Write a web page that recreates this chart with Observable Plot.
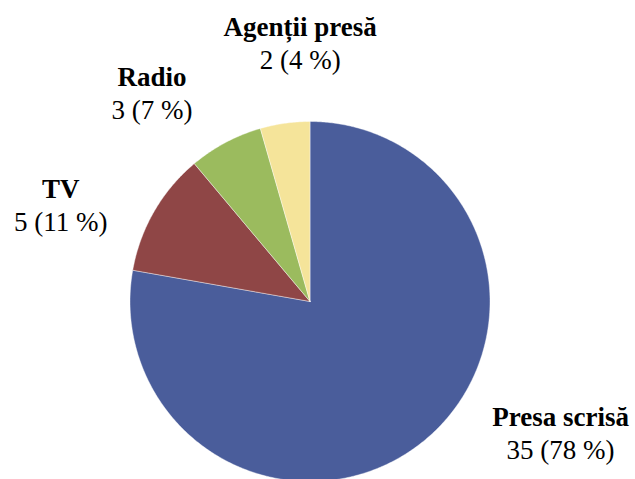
<!DOCTYPE html>
<html>
<head>
<meta charset="utf-8">
<script src="https://cdn.jsdelivr.net/npm/d3@7"></script>
<script src="https://cdn.jsdelivr.net/npm/@observablehq/plot@0.6"></script>
<style>
  html, body { margin: 0; padding: 0; background: #fff; }
  svg { display: block; }
</style>
</head>
<body>
<div id="chart"></div>
<script>
const categories = ["Presa scrisă", "TV", "Radio", "Agenții presă"];
const values = [35, 5, 3, 2];
const percents = [78, 11, 7, 4];
const colors = ["#4A5D9B", "#8F4646", "#9BBB5E", "#F5E49A"];

const W = 635, H = 479;
const cx = 309.5, cy = 301, R = 180;

const arcs = d3.pie().sort(null).value(d => d.value)(
  categories.map((name, i) => ({name, value: values[i], pct: percents[i]}))
);

const pts = [];
for (const a of arcs) {
  pts.push({name: a.data.name, x: cx, y: cy});
  const steps = Math.max(2, Math.ceil((a.endAngle - a.startAngle) / (Math.PI / 360)));
  for (let k = 0; k <= steps; k++) {
    const t = a.startAngle + (a.endAngle - a.startAngle) * k / steps;
    pts.push({name: a.data.name, x: cx + R * Math.sin(t), y: cy - R * Math.cos(t)});
  }
  pts.push({name: a.data.name, x: cx, y: cy});
}

const nudge = {"Presa scrisă": [122, -21], "TV": [-76, 4], "Radio": [-64, -31], "Agenții presă": [18, -60]};
const labels = arcs.map(a => {
  const m = (a.startAngle + a.endAngle) / 2;
  const rr = R + 20;
  const [nx, ny] = nudge[a.data.name];
  return {
    name: a.data.name,
    val: `${a.data.value} (${a.data.pct} %)`,
    x: cx + rr * Math.sin(m) + nx,
    y: cy - rr * Math.cos(m) + ny
  };
});

const chart = Plot.plot({
  width: W,
  height: H,
  margin: 0,
  x: {domain: [0, W], range: [0, W], axis: null},
  y: {domain: [0, H], range: [0, H], axis: null},
  color: {domain: categories, range: colors},
  style: {background: "#fff", fontFamily: "Liberation Serif"},
  marks: [
    Plot.line(pts, {x: "x", y: "y", z: "name", fill: "name", stroke: "#fff", strokeWidth: 0.6, strokeOpacity: 0.7}),
    Plot.text(labels, {x: "x", y: "y", text: "name", dy: -16.5, fontSize: 27, fontWeight: "bold", fill: "#000", fontFamily: "Liberation Serif"}),
    Plot.text(labels, {x: "x", y: "y", text: "val", dy: 16.5, fontSize: 27, fill: "#000", fontFamily: "Liberation Serif"})
  ]
});
d3.select(chart).selectAll("text").style("font-family", "'Liberation Serif', 'DejaVu Serif', serif");
document.getElementById("chart").appendChild(chart);
</script>
</body>
</html>
